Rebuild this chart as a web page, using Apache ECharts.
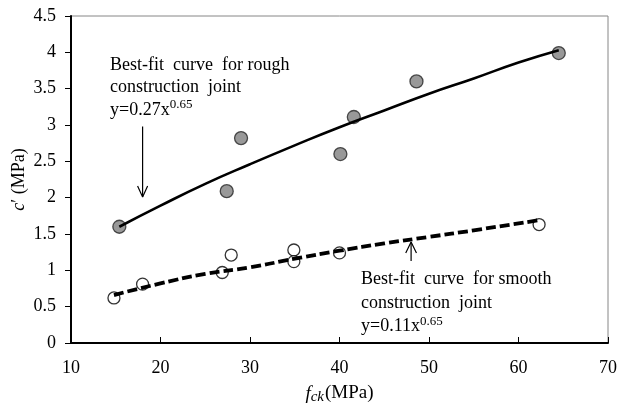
<!DOCTYPE html>
<html>
<head>
<meta charset="utf-8">
<script src="https://cdn.jsdelivr.net/npm/echarts@6/dist/echarts.min.js"></script>
<style>html,body{margin:0;padding:0;background:#fff;}#c{width:619px;height:409px;}</style>
</head>
<body>
<div id="c"></div>
<script>
// Data
var roughPoints = [[15.4,1.60],[27.4,2.09],[29.0,2.82],[40.1,2.60],[41.6,3.11],[48.6,3.60],[64.5,3.99]];
var smoothPoints = [[14.8,0.62],[18.0,0.81],[26.9,0.97],[27.9,1.21],[34.9,1.28],[34.9,1.12],[40.0,1.24],[62.3,1.63]];
var roughCurve = [[15.4,1.60],[20,1.89],[25,2.19],[30,2.46],[35,2.72],[40,2.97],[45,3.20],[50,3.43],[55,3.64],[60,3.86],[64.5,4.03]];
var smoothCurve = [[14.8,0.66],[20,0.82],[25,0.95],[30,1.04],[35,1.16],[40,1.27],[45,1.37],[50,1.46],[55,1.55],[62.3,1.69]];
var roughArrowShaft = [[18,2.98],[18,2.01]];
var roughArrowHead = [[17.44,2.16],[18,2.01],[18.56,2.16]];
var smoothArrowShaft = [[48,1.13],[48,1.39]];
var smoothArrowHead = [[47.4,1.24],[48,1.39],[48.6,1.24]];
var xTicks = {min:10, max:70, interval:10};
var yTicks = {min:0, max:4.5, interval:0.5};

var FONT = '"Liberation Serif", "Times New Roman", serif';
var FS = 18;
var chart = echarts.init(document.getElementById('c'), null, {renderer:'canvas'});
function arrowSeries(d, w){
  return {type:'line', data:d, symbol:'none', silent:true, z:5,
    lineStyle:{color:'#000', width:w}, animation:false};
}
chart.setOption({
  animation:false,
  backgroundColor:'#fff',
  grid:{left:71, right:11, top:16, bottom:66, show:true, borderColor:'#868686', borderWidth:1,
    containLabel:false, outerBoundsMode:'none'},
  xAxis:{type:'value', min:xTicks.min, max:xTicks.max, interval:xTicks.interval,
    splitLine:{show:false},
    axisLine:{lineStyle:{color:'#000', width:2}},
    axisTick:{inside:true, length:6, lineStyle:{color:'#000', width:1}},
    axisLabel:{color:'#000', fontFamily:FONT, fontSize:FS, margin:16},
    name:'{f|f}{s|ck}{n|(MPa)}', nameLocation:'middle', nameGap:39, nameMoveOverlap:false,
    nameTextStyle:{fontFamily:FONT, color:'#000', fontSize:FS,
      rich:{f:{fontFamily:FONT, fontStyle:'italic', fontSize:19, color:'#000'},
            s:{fontFamily:FONT, fontStyle:'italic', fontSize:15, color:'#000', padding:[8,1,0,0]},
            n:{fontFamily:FONT, fontSize:19, color:'#000'}}}
  },
  yAxis:{type:'value', min:yTicks.min, max:yTicks.max, interval:yTicks.interval,
    splitLine:{show:false},
    axisLine:{show:true, lineStyle:{color:'#000', width:2}},
    axisTick:{show:true, inside:false, length:6, lineStyle:{color:'#000', width:1}},
    axisLabel:{color:'#000', fontFamily:FONT, fontSize:FS, margin:15,
      formatter:function(v){return String(v);}},
    name:'{c|c}{n|\u2032 (MPa)}', nameLocation:'middle', nameGap:43, nameMoveOverlap:false,
    nameTextStyle:{fontFamily:FONT, color:'#000', fontSize:FS,
      rich:{c:{fontFamily:FONT, fontStyle:'italic', fontSize:FS, color:'#000'},
            n:{fontFamily:FONT, fontSize:FS, color:'#000'}}}
  },
  graphic:[
    {type:'text', left:110, top:54, z:10, style:{
      text:'Best-fit  curve  for rough\nconstruction  joint\ny=0.27x{sup|0.65}',
      fontFamily:FONT, fontSize:FS, fill:'#000', lineHeight:22.5,
      rich:{sup:{fontFamily:FONT, fontSize:13, fill:'#000', padding:[0,0,11,0]}}}},
    {type:'text', left:361, top:268, z:10, style:{
      text:'Best-fit  curve  for smooth\nconstruction  joint\ny=0.11x{sup|0.65}',
      fontFamily:FONT, fontSize:FS, fill:'#000', lineHeight:23.5,
      rich:{sup:{fontFamily:FONT, fontSize:13, fill:'#000', padding:[0,0,11,0]}}}}
  ],
  series:[
    {type:'scatter', data:roughPoints, symbol:'circle', symbolSize:13, z:2,
      itemStyle:{color:'#808080', borderColor:'#262626', borderWidth:1.3}},
    {type:'scatter', data:smoothPoints, symbol:'circle', symbolSize:12, z:2,
      itemStyle:{color:'#fff', borderColor:'#000', borderWidth:1.3}},
    {type:'line', data:roughCurve, symbol:'none', smooth:true, z:4,
      lineStyle:{color:'#000', width:2.6}},
    {type:'line', data:smoothCurve, symbol:'none', smooth:true, z:4,
      lineStyle:{color:'#000', width:3.8, type:[10,4]}},
    arrowSeries(roughArrowShaft, 1.2),
    arrowSeries(roughArrowHead, 1.2),
    arrowSeries(smoothArrowShaft, 1.2),
    arrowSeries(smoothArrowHead, 1.2)
  ]
});
</script>
</body>
</html>
